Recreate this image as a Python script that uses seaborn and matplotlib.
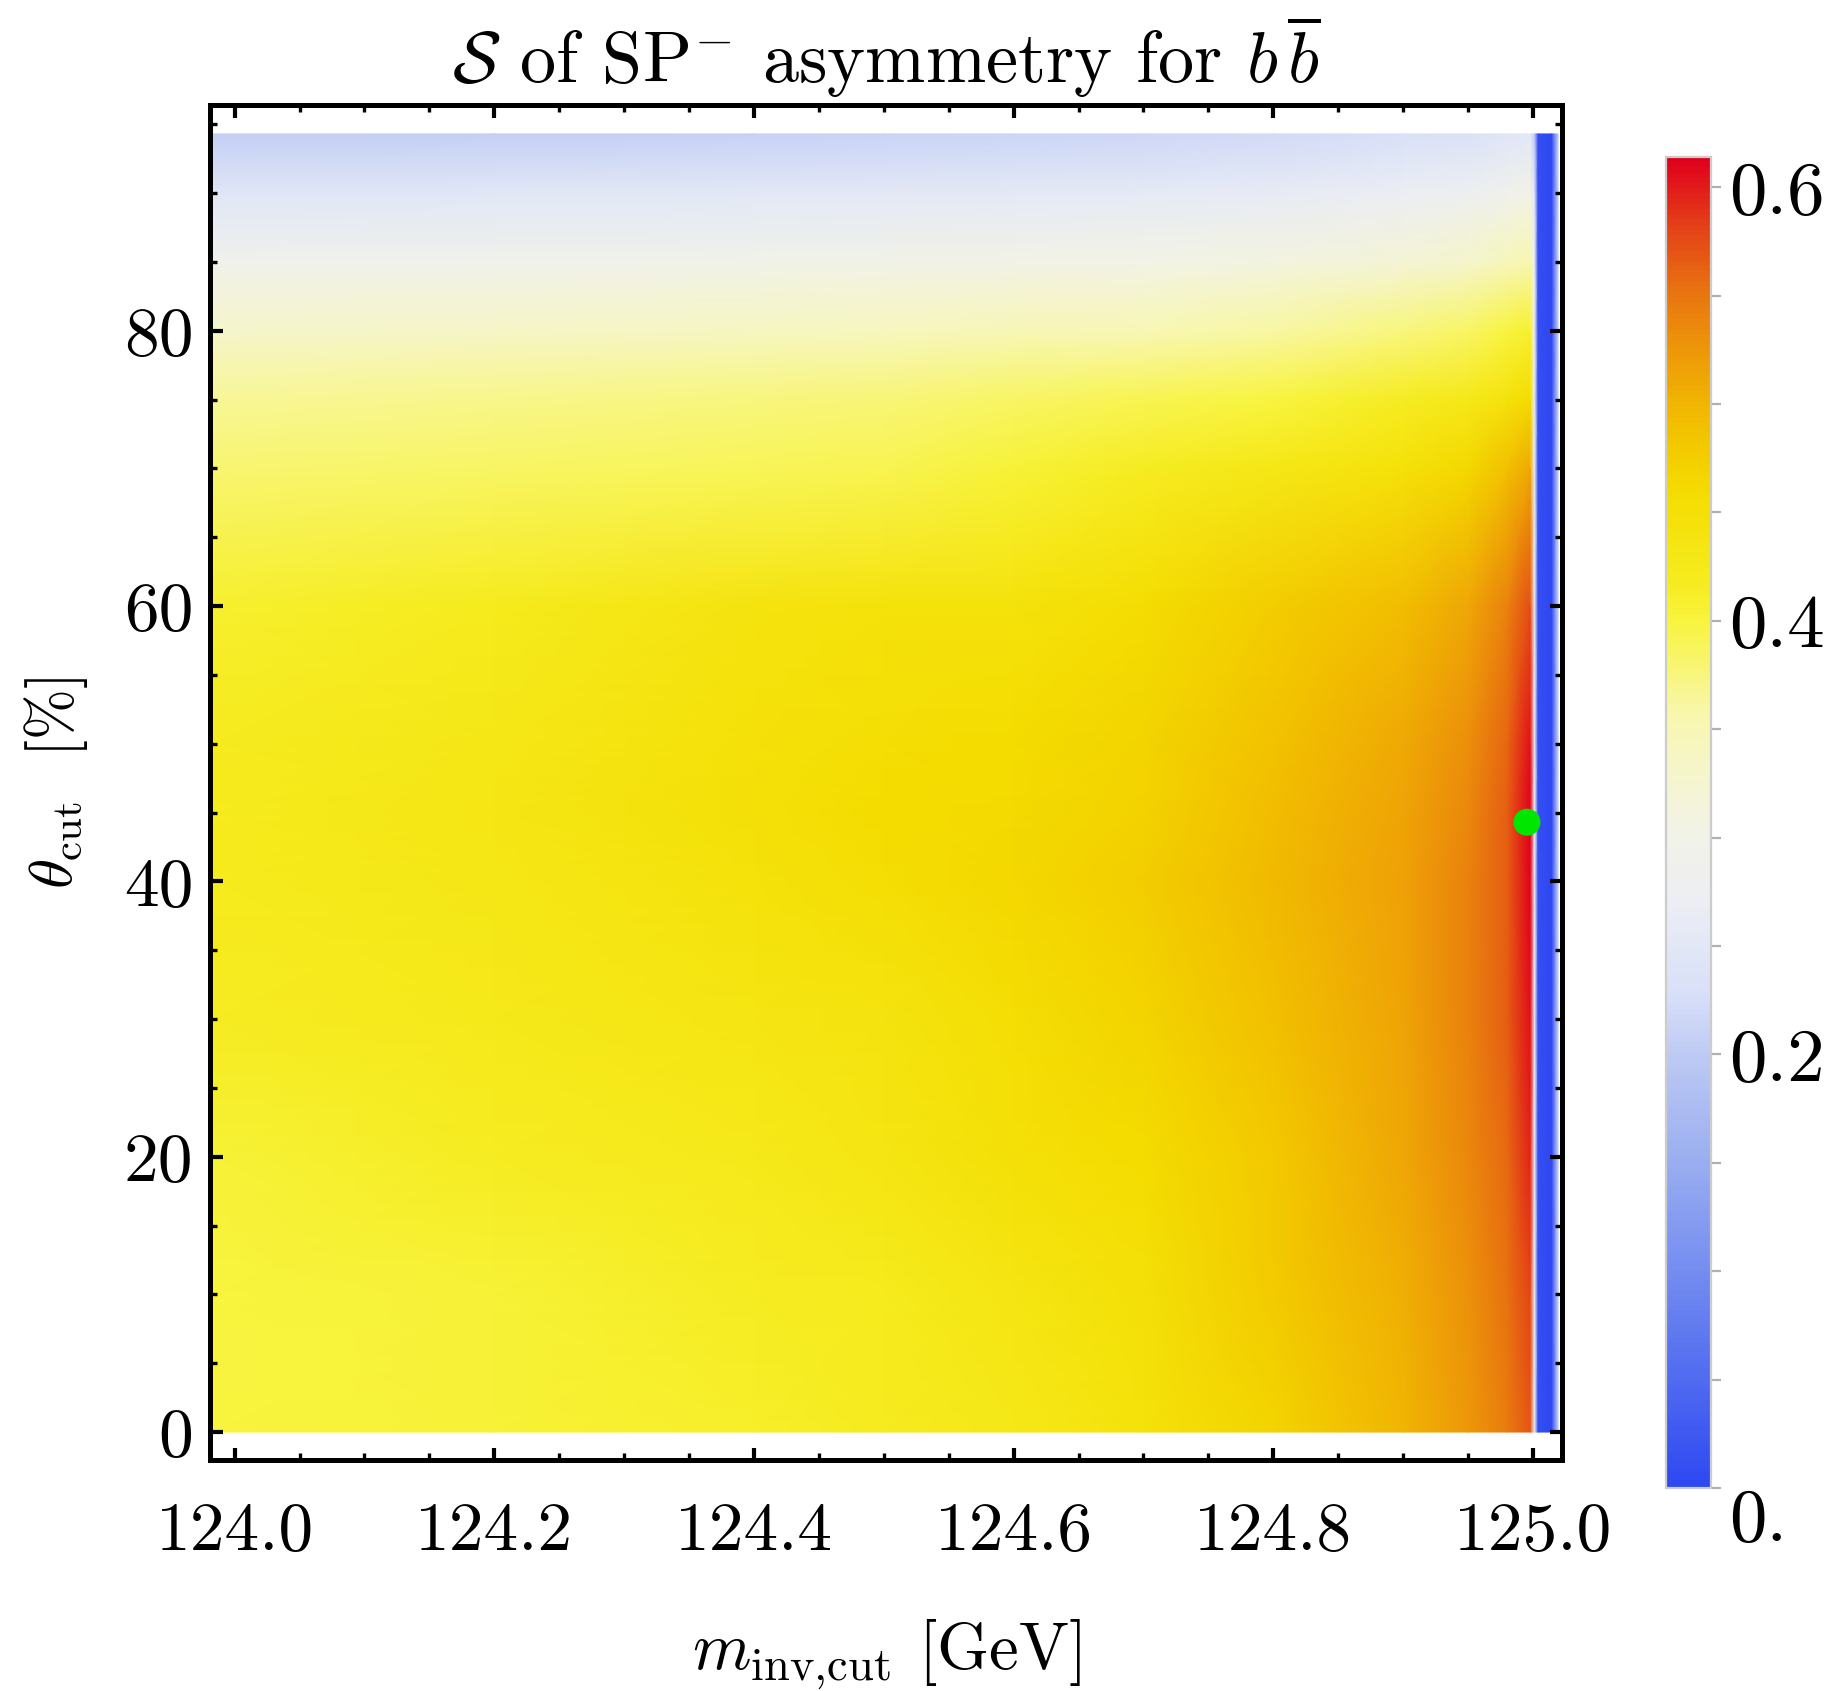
import numpy as np
import matplotlib
matplotlib.use("Agg")
import matplotlib.pyplot as plt
import seaborn as sns
from matplotlib.colors import LinearSegmentedColormap, Normalize
from matplotlib.ticker import MultipleLocator

# grid nodes
m_inv = [123.983, 124.2, 124.4, 124.5, 124.6, 124.7, 124.8, 124.9, 124.95,
         124.98, 124.998, 125.0012, 125.004, 125.0145, 125.0195]
theta = [0, 10, 20, 30, 40, 45, 50, 60, 70, 75, 80, 85, 90, 94.3]

# S values, one row per theta node (left -> right in m_inv)
s_0 = [0.400, 0.405, 0.412, 0.418, 0.428, 0.445, 0.470, 0.500, 0.525, 0.545, 0.570, 0.29, 0.01, 0.0, 0.22]
s_10 = [0.400, 0.405, 0.415, 0.420, 0.435, 0.450, 0.478, 0.505, 0.530, 0.552, 0.580, 0.29, 0.01, 0.0, 0.22]
s_20 = [0.405, 0.415, 0.425, 0.435, 0.450, 0.460, 0.482, 0.512, 0.535, 0.558, 0.595, 0.29, 0.01, 0.0, 0.22]
s_30 = [0.415, 0.425, 0.435, 0.440, 0.455, 0.468, 0.490, 0.515, 0.540, 0.565, 0.605, 0.29, 0.01, 0.0, 0.22]
s_40 = [0.420, 0.430, 0.445, 0.455, 0.465, 0.475, 0.495, 0.518, 0.540, 0.566, 0.612, 0.29, 0.01, 0.0, 0.22]
s_45 = [0.420, 0.432, 0.450, 0.460, 0.462, 0.472, 0.492, 0.515, 0.537, 0.564, 0.612, 0.29, 0.01, 0.0, 0.22]
s_50 = [0.418, 0.430, 0.447, 0.455, 0.460, 0.468, 0.488, 0.510, 0.532, 0.560, 0.605, 0.29, 0.01, 0.0, 0.22]
s_60 = [0.410, 0.420, 0.440, 0.445, 0.445, 0.458, 0.475, 0.492, 0.512, 0.540, 0.575, 0.29, 0.01, 0.0, 0.22]
s_70 = [0.380, 0.385, 0.390, 0.392, 0.405, 0.415, 0.430, 0.448, 0.465, 0.490, 0.510, 0.29, 0.01, 0.0, 0.22]
s_75 = [0.365, 0.370, 0.375, 0.378, 0.385, 0.392, 0.400, 0.415, 0.428, 0.445, 0.460, 0.29, 0.01, 0.0, 0.22]
s_80 = [0.330, 0.335, 0.340, 0.342, 0.348, 0.352, 0.360, 0.375, 0.385, 0.400, 0.410, 0.29, 0.01, 0.0, 0.22]
s_85 = [0.290, 0.292, 0.296, 0.298, 0.300, 0.304, 0.310, 0.320, 0.330, 0.345, 0.355, 0.29, 0.01, 0.0, 0.22]
s_90 = [0.245, 0.248, 0.250, 0.252, 0.255, 0.258, 0.262, 0.270, 0.278, 0.290, 0.300, 0.25, 0.01, 0.0, 0.22]
s_94 = [0.205, 0.208, 0.210, 0.212, 0.215, 0.218, 0.222, 0.228, 0.235, 0.245, 0.250, 0.20, 0.01, 0.0, 0.22]

best_point_m = [124.9954]
best_point_theta = [44.3]

x_ticks = [124.0, 124.2, 124.4, 124.6, 124.8, 125.0]
x_tick_labels = ["124.0", "124.2", "124.4", "124.6", "124.8", "125.0"]
y_ticks = [0, 20, 40, 60, 80]
y_tick_labels = ["0", "20", "40", "60", "80"]
cbar_ticks = [0.0, 0.2, 0.4, 0.6]
cbar_tick_labels = ["0.", "0.2", "0.4", "0.6"]

s_max = 0.614

sns.set_theme(style="white")
plt.rcParams["font.family"] = "cmr10"
plt.rcParams["mathtext.fontset"] = "cm"
plt.rcParams["axes.unicode_minus"] = False
plt.rcParams["axes.formatter.use_mathtext"] = True
plt.rcParams["text.color"] = "black"
plt.rcParams["axes.labelcolor"] = "black"
plt.rcParams["xtick.color"] = "black"
plt.rcParams["ytick.color"] = "black"

# Mathematica-like temperature map
temp_cmap = LinearSegmentedColormap.from_list("temperature", [
    (0.00, "#2e48f2"), (0.14, "#6a84f0"), (0.24, "#98acf0"), (0.33, "#c0ccf4"),
    (0.37, "#d8e0f8"), (0.44, "#eceef4"), (0.50, "#f3f3e4"), (0.58, "#f8f7b0"),
    (0.65, "#f8f440"), (0.68, "#f6ec20"), (0.75, "#f4dc00"), (0.80, "#f2c000"),
    (0.85, "#ee9c08"), (0.90, "#e87410"), (0.95, "#e44018"), (1.00, "#e0001c"),
])

S = np.array([s_0, s_10, s_20, s_30, s_40, s_45, s_50, s_60, s_70, s_75,
              s_80, s_85, s_90, s_94])
X, Y = np.meshgrid(m_inv, theta)

fig = plt.figure(figsize=(9.17, 8.455), dpi=200)
ax = fig.add_axes([0.1145, 0.1366, 0.7372, 0.8013])
ax.set_axisbelow(False)

norm = Normalize(vmin=0, vmax=s_max)
mesh = ax.pcolormesh(X, Y, S, cmap=temp_cmap, norm=norm, shading="gouraud",
                     rasterized=True)

sns.scatterplot(x=best_point_m, y=best_point_theta, color="#00e600", s=95,
                edgecolor="none", ax=ax, zorder=5, legend=False)

ax.set_xlim(123.981, 125.0224)
ax.set_ylim(-2.03, 96.4)

ax.set_xticks(x_ticks, labels=x_tick_labels)
ax.set_yticks(y_ticks, labels=y_tick_labels)
ax.xaxis.set_minor_locator(MultipleLocator(0.05))
ax.yaxis.set_minor_locator(MultipleLocator(5))
ax.tick_params(which="both", direction="in", bottom=True, left=True,
               top=True, right=True, color="black")
ax.tick_params(which="major", length=4.5, width=1.5)
ax.tick_params(which="minor", length=2.6, width=1.2)
ax.tick_params(axis="x", which="major", labelsize=25, pad=15)
ax.tick_params(axis="y", which="major", labelsize=25, pad=6)
for sp in ax.spines.values():
    sp.set_linewidth(1.8)
    sp.set_color("black")
    sp.set_zorder(6)

ax.set_title(r"$\mathcal{S}$ of SP$^{-}$ asymmetry for $b\,\overline{b}$",
             fontsize=26, pad=8)
ax.set_xlabel(r"$m_{\rm inv{,}cut}$ [GeV]", fontsize=24, labelpad=20)
ax.set_ylabel(r"$\theta_{\rm cut}$  [%]", fontsize=22, labelpad=12)

cax = fig.add_axes([0.9084, 0.1200, 0.0245, 0.7872])
cbar = fig.colorbar(mesh, cax=cax)
cbar.set_ticks(cbar_ticks, labels=cbar_tick_labels)
cbar.ax.yaxis.set_minor_locator(MultipleLocator(0.05))
cbar.ax.tick_params(which="both", direction="out", color="#b0b0b0", width=0.8)
cbar.ax.tick_params(which="major", length=3.6, labelsize=27, pad=3)
cbar.ax.tick_params(which="minor", length=3.6)
cbar.outline.set_edgecolor("#cccccc")
cbar.outline.set_linewidth(0.8)
cbar.ax.get_yticklabels()[0].set_va("top")

fig.savefig("out.png", dpi=200)
